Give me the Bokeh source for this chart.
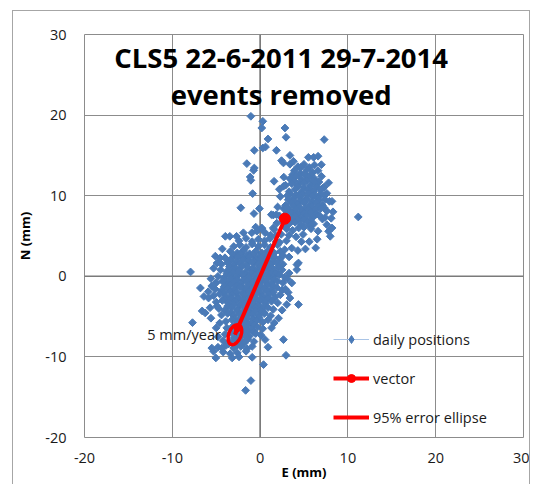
import math
from bokeh.plotting import figure
from bokeh.models import (Range1d, Span, Label, Arrow, NormalHead,
                          Legend, LegendItem, ColumnDataSource)
from bokeh.embed import file_html
from bokeh.resources import INLINE

# ---------------- data ----------------
x_ticks = [-20, -10, 0, 10, 20, 30]
y_ticks = [-20, -10, 0, 10, 20, 30]
x_tick_labels = ["-20", "-10", "0", "10", "20", "30"]
y_tick_labels = ["-20", "-10", "0", "10", "20", "30"]
title_line1 = "CLS5 22-6-2011 29-7-2014"
title_line2 = "events removed"
x_title = "E (mm)"
y_title = "N (mm)"
rate_label = "5 mm/year"
legend_labels = ["daily positions", "vector", "95% error ellipse"]

# dense core of daily positions (E, N) in mm
core_points = [
    (-0.5, 6.1), (0.2, 5.9), (1.5, 6.0),
    (-3.96, 4.96), (-3.45, 4.96), (-2.68, 4.96), (-1.9, 5.4), (-0.94, 5.4), (-0.37, 5.6), (0.19, 6.0), (0.57, 5.4), (1.2, 5.1),
    (-2.4, 4.4), (-1.6, 4.7), (-0.9, 4.3), (-0.2, 4.6), (0.5, 4.4), (1.1, 4.7), (1.8, 4.3),
    (-3.0, 3.7), (-2.3, 3.9), (-1.6, 3.6), (-0.9, 4.0), (-0.2, 3.7), (0.5, 3.9), (1.2, 3.6), (2.0, 3.9),
    (-3.4, 3.1), (-2.6, 2.9), (-1.9, 3.2), (-1.2, 2.8), (-0.5, 3.1), (0.2, 2.9), (0.9, 3.2), (1.6, 2.9), (2.3, 3.1),
    (-3.0, 2.6), (-2.2, 2.8), (-1.5, 2.6), (-0.8, 2.7), (-0.1, 2.5), (0.6, 2.8), (1.3, 2.6),
    (-4.0, 2.3), (-3.3, 2.1), (-2.6, 2.4), (-1.9, 2.2), (-1.2, 2.4), (-0.5, 2.1), (0.2, 2.3), (0.9, 2.2), (1.6, 2.4), (2.3, 2.2),
    (-3.4, 2.0), (-2.7, 1.8), (-2.0, 2.0), (-1.3, 1.9), (-0.6, 1.8), (0.1, 2.0), (0.8, 1.9), (1.5, 1.8),
    (-4.4, 1.5), (-3.7, 1.7), (-3.0, 1.4), (-2.3, 1.6), (-1.6, 1.4), (-0.9, 1.7), (-0.2, 1.5), (0.5, 1.6), (1.2, 1.4), (1.9, 1.7), (2.6, 1.5),
    (-3.5, 1.2), (-2.8, 1.0), (-2.1, 1.2), (-1.4, 1.1), (-0.7, 1.0), (0.0, 1.2), (0.7, 1.1), (1.4, 1.0), (2.1, 1.2),
    (-4.5, 0.8), (-3.8, 0.6), (-3.1, 0.9), (-2.4, 0.7), (-1.7, 0.5), (-1.0, 0.8), (-0.3, 0.6), (0.4, 0.9), (1.1, 0.7), (1.8, 0.5), (2.5, 0.8),
    (-3.8, 0.3), (-3.1, 0.5), (-2.4, 0.3), (-1.7, 0.2), (-1.0, 0.4), (-0.3, 0.3), (0.4, 0.4), (1.1, 0.3), (1.8, 0.4),
    (-4.8, 0.0), (-4.1, -0.2), (-3.4, 0.1), (-2.7, -0.1), (-2.0, 0.2), (-1.3, -0.1), (-0.6, 0.1), (0.1, -0.2), (0.8, 0.1), (1.5, -0.1), (2.2, 0.2), (2.8, -0.1),
    (-4.0, -0.5), (-3.3, -0.3), (-2.6, -0.4), (-1.9, -0.5), (-1.2, -0.3), (-0.5, -0.4), (0.2, -0.5), (0.9, -0.3), (1.6, -0.4),
    (-5.0, -0.8), (-4.3, -0.6), (-3.6, -0.9), (-2.9, -0.7), (-2.2, -0.9), (-1.5, -0.6), (-0.8, -0.8), (-0.1, -1.0), (0.6, -0.7), (1.3, -0.9), (2.0, -0.6), (2.6, -0.8),
    (-4.1, -1.3), (-3.4, -1.1), (-2.7, -1.2), (-2.0, -1.3), (-1.3, -1.1), (-0.6, -1.2), (0.1, -1.3), (0.8, -1.1), (1.5, -1.2),
    (-5.1, -1.6), (-4.4, -1.8), (-3.7, -1.5), (-3.0, -1.7), (-2.3, -1.4), (-1.6, -1.7), (-0.9, -1.5), (-0.2, -1.8), (0.5, -1.5), (1.2, -1.7), (1.9, -1.4), (2.5, -1.7),
    (-4.1, -2.1), (-3.4, -1.9), (-2.7, -2.0), (-2.0, -2.1), (-1.3, -1.9), (-0.6, -2.0), (0.1, -2.1), (0.8, -1.9), (1.5, -2.0),
    (-5.3, -2.4), (-4.6, -2.2), (-3.9, -2.5), (-3.2, -2.3), (-2.5, -2.6), (-1.8, -2.3), (-1.1, -2.5), (-0.4, -2.2), (0.3, -2.5), (1.0, -2.3), (1.7, -2.6), (2.3, -2.3),
    (-4.0, -2.9), (-3.3, -2.7), (-2.6, -2.8), (-1.9, -2.9), (-1.2, -2.7), (-0.5, -2.8), (0.2, -2.9), (0.9, -2.7),
    (-5.0, -3.2), (-4.3, -3.0), (-3.6, -3.3), (-2.9, -3.1), (-2.2, -3.4), (-1.5, -3.1), (-0.8, -3.3), (-0.1, -3.0), (0.6, -3.3), (1.3, -3.1), (2.0, -3.3),
    (-3.7, -3.7), (-3.0, -3.5), (-2.3, -3.6), (-1.6, -3.7), (-0.9, -3.5), (-0.2, -3.6), (0.5, -3.7),
    (-4.7, -4.0), (-4.0, -4.2), (-3.3, -3.9), (-2.6, -4.1), (-1.9, -3.8), (-1.2, -4.1), (-0.5, -3.9), (0.2, -4.2), (0.9, -3.9), (1.5, -4.1),
    (-3.3, -4.5), (-2.6, -4.3), (-1.9, -4.4), (-1.2, -4.5), (-0.5, -4.3), (0.2, -4.4),
    (-4.4, -4.8), (-3.7, -4.6), (-3.0, -4.9), (-2.3, -4.7), (-1.6, -5.0), (-0.9, -4.7), (-0.2, -4.9), (0.5, -4.6), (1.2, -4.9),
    (-2.9, -5.3), (-2.2, -5.1), (-1.5, -5.2), (-0.8, -5.3), (-0.1, -5.1),
    (-3.9, -5.6), (-3.2, -5.4), (-2.5, -5.7), (-1.8, -5.5), (-1.1, -5.8), (-0.4, -5.5), (0.3, -5.7), (0.9, -5.4),
    (-2.8, -6.1), (-2.1, -5.9), (-1.4, -6.0), (-0.7, -6.1),
    (-3.8, -6.4), (-3.1, -6.2), (-2.4, -6.5), (-1.7, -6.3), (-1.0, -6.6), (-0.3, -6.3), (0.3, -6.5),
    (-2.8, -6.9), (-2.1, -6.7), (-1.4, -6.8), (-0.7, -6.9),
    (-4.0, -7.2), (-3.3, -7.0), (-2.6, -7.3), (-1.9, -7.1), (-1.2, -7.4), (-0.5, -7.1), (0.1, -7.3),
    (-3.0, -7.7), (-2.3, -7.5), (-1.6, -7.6),
    (-4.2, -8.0), (-3.5, -8.2), (-2.8, -7.9), (-2.1, -8.1), (-1.4, -7.8), (-0.7, -8.1),
    (-3.6, -8.4), (-2.6, -8.5), (-1.8, -8.3),
    (-4.8, -8.8), (-3.9, -8.6), (-3.0, -8.9), (-2.2, -8.7), (-1.5, -9.0), (-0.9, -8.7),
    (-4.2, -9.4), (-2.6, -9.5), (-1.6, -9.3), (-3.4, -9.6),
]

# north-east cluster of daily positions (E, N) in mm
upper_points = [
    (3.4, 13.9), (4.3, 13.6), (5.0, 13.9), (5.6, 13.5), (6.2, 13.8), (6.98, 13.85),
    (4.6, 13.5), (5.3, 13.2),
    (3.9, 13.1), (4.6, 12.8), (6.0, 12.9), (6.6, 13.1),
    (3.7, 12.6), (4.4, 12.5), (5.1, 12.7), (5.8, 12.6),
    (2.7, 12.3), (3.4, 12.1), (4.1, 12.4), (4.8, 12.0), (5.5, 12.3), (6.2, 12.1),
    (3.9, 11.8), (4.6, 11.7), (5.3, 11.9), (6.0, 11.8), (6.7, 11.7), (7.3, 11.08),
    (2.9, 11.3), (3.6, 11.5), (4.3, 11.2), (5.0, 11.6), (5.7, 11.3), (6.4, 11.5),
    (4.3, 11.1), (5.0, 11.0), (5.7, 10.9), (6.4, 11.1), (7.1, 10.9),
    (3.3, 10.5), (4.0, 10.8), (4.7, 10.4), (5.4, 10.7), (6.1, 10.5), (6.8, 10.8),
    (3.4, 10.3), (4.1, 10.1), (4.8, 10.2), (5.5, 10.3), (6.2, 10.1), (6.9, 10.2), (7.6, 10.3),
    (3.1, 10.0), (3.8, 9.7), (4.5, 9.9), (5.2, 9.6), (5.9, 9.9), (6.6, 9.7), (7.3, 10.0),
    (3.2, 9.5), (3.9, 9.3), (4.6, 9.4), (5.3, 9.5), (6.0, 9.3), (6.7, 9.4), (7.4, 9.5), (8.19, 9.3),
    (2.9, 8.8), (3.6, 9.1), (4.3, 8.9), (5.0, 9.2), (5.7, 8.9), (6.4, 9.1), (7.1, 8.8), (7.9, 9.3),
    (3.1, 8.5), (3.8, 8.7), (4.5, 8.6), (5.2, 8.5), (5.9, 8.7), (6.6, 8.6), (7.3, 8.5),
    (2.7, 8.4), (3.4, 8.1), (4.1, 8.3), (4.8, 8.0), (5.5, 8.3), (6.2, 8.1), (6.9, 8.4), (7.6, 8.1),
    (3.0, 7.8), (3.6, 7.9), (4.3, 7.7), (5.0, 7.8), (5.7, 7.9), (6.4, 7.7),
    (1.5, 7.6), (2.2, 7.5), (3.2, 7.3), (3.9, 7.5), (4.6, 7.2), (5.3, 7.5), (6.0, 7.3), (6.7, 7.6), (7.4, 7.3),
    (3.6, 6.9), (4.3, 7.0), (5.0, 7.1), (5.7, 6.9), (7.1, 7.1),
    (2.6, 6.8), (3.3, 6.5), (4.0, 6.7), (4.7, 6.4), (5.4, 6.7), (6.1, 6.5), (7.6, 6.4),
    (2.9, 6.1), (5.0, 6.1), (5.7, 6.3), (8.19, 6.0),
    (1.6, 5.8), (3.0, 5.9), (3.7, 5.7), (4.4, 6.0), (5.8, 5.9), (6.6, 5.6), (7.8, 5.58),
    (1.8, 5.0), (3.3, 5.1), (4.1, 4.9), (4.9, 5.2), (7.99, 4.96),
    (2.2, 4.2), (3.0, 4.4), (4.7, 4.3), (6.5, 4.6),
    (2.8, 3.3), (3.6, 3.5), (5.16, 3.39), (6.33, 3.52),
    (2.6, 2.6), (3.3, 2.4), (4.37, 1.65),
]

# isolated daily positions (E, N) in mm
outlier_points = [
    (7.3, 16.96), (2.83, 18.4), (2.95, 17.25), (0.9, 17.04), (-1.05, 19.85), (0.31, 19.23),
    (0.19, 18.4), (-0.66, 15.63), (0.31, 15.92), (0.62, 16.05), (1.86, 15.63), (3.4, 15.0),
    (3.8, 14.27), (2.44, 14.35), (2.66, 14.06), (-1.51, 13.98), (-0.66, 13.44), (-0.74, 13.15),
    (-1.13, 12.32), (-1.05, 11.91), (1.59, 11.79), (2.66, 11.17), (-0.85, 10.26), (-2.2, 8.5),
    (-0.7, 7.78), (-0.08, 8.4), (1.28, 7.65), (1.86, 7.65), (3.04, 8.48), (11.18, 7.36),
    (5.5, 14.76), (6.1, 14.76), (6.6, 14.9), (7.0, 12.4), (7.8, 11.6), (8.3, 8.0), (8.1, 7.2),
    (2.3, 9.9), (2.2, 10.8), (2.0, 8.6), (1.9, 6.6), (2.4, 5.2), (5.6, 4.3), (4.3, 3.2),
    (-7.92, 0.54), (-6.8, -1.45), (-6.4, -2.5), (-5.87, -2.7), (-6.6, -4.3), (-6.25, -4.55),
    (-5.7, -3.9), (-7.7, -5.75), (-5.5, -8.9), (-5.3, -9.3), (-4.36, -8.9), (-5.9, -1.9),
    (-5.1, 2.5), (-4.55, 2.27), (-4.9, 1.65), (-5.3, 1.0), (-5.6, -0.3), (-5.5, -1.2),
    (-5.6, -5.2), (-5.0, -6.4), (-4.8, -7.5), (-4.6, -5.8), (-4.9, -3.7), (-4.3, 3.4),
    (-5.04, -10.13), (-3.18, -10.13), (-0.9, -10.05), (0.39, -10.96), (-1.05, -12.94), (-1.65, -14.15),
    (0.57, -7.86), (2.66, -7.86), (2.95, -9.8), (4.37, -3.5), (3.04, -3.5), (3.4, -2.7), (3.2, -2.0),
    (3.61, -0.83), (3.3, 0.4), (4.19, 0.83), (4.19, 1.45), (2.1, -5.2), (1.6, -5.8), (2.5, -4.2),
    (2.9, -1.6), (3.1, -0.3), (1.3, -6.4), (0.9, -8.8), (-2.4, -10.0),
]

vector_E = [2.83, -2.87]      # start (dot) -> end (arrow)
vector_N = [7.15, -7.24]
ellipse_E = [-2.87]
ellipse_N = [-7.24]
ellipse_w = [1.4]
ellipse_h = [2.6]
ellipse_angle = [-0.38]

# ---------------- figure ----------------
BLUE = "#4A7AB7"
RED = "#FF0000"
GRID = "#8C8C8C"
FONT = "Open Sans"

p = figure(width=518, height=474,
           x_range=Range1d(-20, 30), y_range=Range1d(-20, 30),
           output_backend="svg", toolbar_location=None,
           min_border_left=71, min_border_right=8,
           min_border_top=23, min_border_bottom=48)
p.margin = (10, 0, 0, 12)
p.styles = {"border-left": "1px solid #A6A6A6", "border-top": "1px solid #A6A6A6",
            "border-right": "1px solid #A6A6A6"}
p.background_fill_color = "white"
p.border_fill_color = "white"
p.outline_line_color = GRID
p.outline_line_width = 1

for ax, ticks, labels, title in ((p.xaxis, x_ticks, x_tick_labels, x_title),
                                 (p.yaxis, y_ticks, y_tick_labels, y_title)):
    ax.ticker = ticks
    ax.major_label_overrides = {t: s for t, s in zip(ticks, labels)}
    ax.axis_line_color = None
    ax.major_tick_line_color = None
    ax.minor_tick_line_color = None
    ax.major_tick_out = 0
    ax.major_tick_in = 0
    ax.major_label_text_font = FONT
    ax.major_label_text_font_size = "14.5px"
    ax.major_label_text_color = "#1a1a1a"
    ax.axis_label = title
    ax.axis_label_text_font = FONT
    ax.axis_label_text_font_style = "bold"
    ax.axis_label_text_font_size = "13px"
    ax.axis_label_text_color = "#000000"
p.xaxis.major_label_standoff = 15
p.xaxis.axis_label_standoff = -3
p.yaxis.major_label_standoff = 18
p.yaxis.axis_label_standoff = 8

p.xgrid.ticker = x_ticks
p.ygrid.ticker = y_ticks
for g in (p.xgrid, p.ygrid):
    g.grid_line_color = GRID
    g.grid_line_width = 1

# axes crossing at zero
p.add_layout(Span(location=0, dimension="height", line_color="#7A7A7A", line_width=1.6, level="underlay"))
p.add_layout(Span(location=0, dimension="width", line_color="#7A7A7A", line_width=1.6, level="underlay"))

all_points = core_points + upper_points + outlier_points
src = ColumnDataSource(data=dict(E=[pt[0] for pt in all_points], N=[pt[1] for pt in all_points]))
r_pts = p.scatter("E", "N", source=src, marker="square", angle=math.pi / 4, size=5.5,
                  fill_color=BLUE, line_color=BLUE, line_width=1)

# error ellipse
p.ellipse(x=ellipse_E, y=ellipse_N, width=ellipse_w, height=ellipse_h, angle=ellipse_angle,
          fill_alpha=0, line_color=RED, line_width=3.5)

# vector
r_vec = p.line(x=vector_E, y=vector_N, line_color=RED, line_width=4)
p.add_layout(Arrow(x_start=vector_E[0], y_start=vector_N[0], x_end=vector_E[1], y_end=vector_N[1],
                   line_alpha=0,
                   end=NormalHead(size=9, fill_color=RED, line_color=RED, line_width=1)))
r_dot = p.scatter(x=vector_E[:1], y=vector_N[:1], marker="circle", size=11,
                  fill_color=RED, line_color=RED)

# rate label next to the vector end
p.add_layout(Label(x=vector_E[1], y=vector_N[1], text=rate_label, text_align="right",
                   text_baseline="middle", x_offset=-14, y_offset=0,
                   text_font=FONT, text_font_size="14.5px", text_color="#1a1a1a"))

# title inside the plot area
p.add_layout(Label(x=2.4, y=27.2, text=title_line1, text_align="center", text_baseline="alphabetic",
                   text_font=FONT, text_font_style="bold", text_font_size="27.5px", text_color="#000000"))
p.add_layout(Label(x=2.4, y=22.6, text=title_line2, text_align="center", text_baseline="alphabetic",
                   text_font=FONT, text_font_style="bold", text_font_size="27.5px", text_color="#000000"))

# legend-only swatches (no visible data points)
nan = float("nan")
r_leg_line = p.line(x=[nan], y=[nan], line_color="#A9C4E6", line_width=1)
r_leg_mark = p.scatter(x=[nan], y=[nan], marker="diamond", size=8,
                       fill_color=BLUE, line_color=BLUE)
r_leg_ell = p.line(x=[nan], y=[nan], line_color=RED, line_width=4)

legend = Legend(items=[
    LegendItem(label=legend_labels[0], renderers=[r_leg_line, r_leg_mark]),
    LegendItem(label=legend_labels[1], renderers=[r_vec, r_dot]),
    LegendItem(label=legend_labels[2], renderers=[r_leg_ell]),
], location=(249, 10), orientation="vertical",
    background_fill_alpha=0, border_line_color=None, padding=0, margin=0,
    spacing=19, glyph_width=36, glyph_height=20, label_height=20, label_standoff=4,
    label_text_font=FONT, label_text_font_size="14.5px", label_text_color="#1a1a1a",
    label_text_baseline="middle")
p.add_layout(legend)

open("out.html", "w").write(file_html(p, INLINE))
